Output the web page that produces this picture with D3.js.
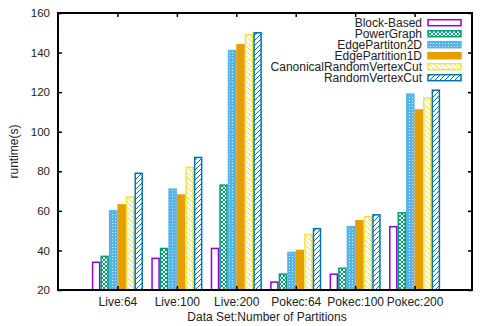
<!DOCTYPE html>
<html>
<head>
<meta charset="utf-8">
<script src="https://cdn.jsdelivr.net/npm/d3@7"></script>
<style>
  body { margin: 0; background: #fff; }
  text { font-family: "Liberation Sans", Arial, sans-serif; }
</style>
</head>
<body>
<div id="chart"></div>
<script>
const width = 480, height = 326;

// data
const categories = ["Live:64", "Live:100", "Live:200", "Pokec:64", "Pokec:100", "Pokec:200"];
const seriesNames = ["Block-Based", "PowerGraph", "EdgePartiton2D", "EdgePartition1D", "CanonicalRandomVertexCut", "RandomVertexCut"];
const blockBased = [34, 36, 41, 24, 28, 52];
const powerGraph = [37, 41, 73, 28, 31, 59];
const edge2D = [60, 71, 141, 39, 52, 119];
const edge1D = [63, 68, 144, 40, 55, 111];
const canonicalRVC = [67, 82, 149, 48, 57, 117];
const randomVC = [79, 87, 150, 51, 58, 121];
const yTicks = [20, 40, 60, 80, 100, 120, 140, 160];

const series = [blockBased, powerGraph, edge2D, edge1D, canonicalRVC, randomVC];
const colors = ["#9400d3", "#009e73", "#56b4e9", "#e69f00", "#f0e442", "#0072b2"];
const fills = ["#fff", "url(#pCross)", "url(#pDots)", "#e69f00", "url(#pBack)", "url(#pFwd)"];

const margin = { left: 58, right: 8, top: 13, bottom: 36 };

const svg = d3.select("#chart").append("svg")
  .attr("width", width)
  .attr("height", height);

// fill patterns
const defs = svg.append("defs");
const pCross = defs.append("pattern").attr("id", "pCross")
  .attr("patternUnits", "userSpaceOnUse").attr("width", 4).attr("height", 4);
pCross.append("rect").attr("width", 4).attr("height", 4).attr("fill", "#fff");
pCross.append("path").attr("d", "M0,0L4,4M4,0L0,4").attr("stroke", "#009e73").attr("stroke-width", 1);

const pDots = defs.append("pattern").attr("id", "pDots")
  .attr("patternUnits", "userSpaceOnUse").attr("width", 3).attr("height", 3);
pDots.append("rect").attr("width", 3).attr("height", 3).attr("fill", "#56b4e9");
pDots.append("rect").attr("x", 1).attr("y", 1).attr("width", 1).attr("height", 1).attr("fill", "#d8eefb");

const pBack = defs.append("pattern").attr("id", "pBack")
  .attr("patternUnits", "userSpaceOnUse").attr("width", 5).attr("height", 5);
pBack.append("rect").attr("width", 5).attr("height", 5).attr("fill", "#fff");
pBack.append("path").attr("d", "M-1,-1L6,6M-1,4L1,6M4,-1L6,1").attr("stroke", "#f0e442").attr("stroke-width", 1);

const pFwd = defs.append("pattern").attr("id", "pFwd")
  .attr("patternUnits", "userSpaceOnUse").attr("width", 5).attr("height", 5);
pFwd.append("rect").attr("width", 5).attr("height", 5).attr("fill", "#fff");
pFwd.append("path").attr("d", "M-1,6L6,-1M-1,1L1,-1M4,6L6,4").attr("stroke", "#0072b2").attr("stroke-width", 1);

// scales
const x = d3.scaleLinear().domain([-1, 6]).range([margin.left, 474]);
const y = d3.scaleLinear().domain([20, 160]).range([height - margin.bottom, margin.top]);

const groupW = 0.86;
const barW = groupW / series.length;

// bars
series.forEach((vals, s) => {
  svg.append("g").selectAll("rect")
    .data(vals)
    .join("rect")
    .attr("x", (d, i) => x(i - groupW / 2 + s * barW) + 0.75)
    .attr("y", d => y(d))
    .attr("width", x(barW) - x(0) - 1.5)
    .attr("height", d => y(20) - y(d))
    .attr("fill", fills[s])
    .attr("stroke", colors[s])
    .attr("stroke-width", 1.5);
});

// axes
const x0 = margin.left, x1 = width - margin.right;
const y0 = y(20), y1 = y(160);

const yAxis = svg.append("g").attr("transform", `translate(${x0},0)`)
  .call(d3.axisLeft(y).tickValues(yTicks).tickSize(-4).tickPadding(8));
yAxis.select(".domain").remove();
yAxis.selectAll("text").attr("font-size", 11.5).attr("fill", "#222");
yAxis.selectAll("line").attr("stroke-width", 1.5);

svg.append("g").attr("transform", `translate(${x1},0)`)
  .call(d3.axisRight(y).tickValues(yTicks).tickSize(-4).tickFormat(""))
  .call(g => g.select(".domain").remove())
  .call(g => g.selectAll("line").attr("stroke-width", 1.5));

const xAxis = svg.append("g").attr("transform", `translate(0,${y0})`)
  .call(d3.axisBottom(x).tickValues(d3.range(categories.length))
    .tickFormat(i => categories[i]).tickSize(-4).tickPadding(7));
xAxis.select(".domain").remove();
xAxis.selectAll("text").attr("font-size", 12).attr("fill", "#222");
xAxis.selectAll("line").attr("stroke-width", 1.5);

svg.append("g").attr("transform", `translate(0,${y1})`)
  .call(d3.axisTop(x).tickValues(d3.range(categories.length)).tickSize(-4).tickFormat(""))
  .call(g => g.select(".domain").remove())
  .call(g => g.selectAll("line").attr("stroke-width", 1.5));

svg.append("rect")
  .attr("x", x0).attr("y", y1)
  .attr("width", x1 - x0).attr("height", y0 - y1)
  .attr("fill", "none").attr("stroke", "#000").attr("stroke-width", 2);

// axis titles
svg.append("text")
  .attr("transform", `translate(18,${(y0 + y1) / 2}) rotate(-90)`)
  .attr("text-anchor", "middle")
  .attr("font-size", 12).attr("fill", "#222")
  .text("runtime(s)");

svg.append("text")
  .attr("x", 267).attr("y", 321)
  .attr("text-anchor", "middle")
  .attr("font-size", 12).attr("fill", "#222")
  .text("Data Set:Number of Partitions");

// legend
const legend = svg.append("g");
seriesNames.forEach((name, s) => {
  const ly = 22.7 + s * 11;
  legend.append("text")
    .attr("x", 422).attr("y", ly).attr("dy", "0.35em")
    .attr("text-anchor", "end")
    .attr("font-size", 12).attr("fill", "#222")
    .text(name);
  legend.append("rect")
    .attr("x", 428).attr("y", ly - 3)
    .attr("width", 33).attr("height", 6)
    .attr("fill", fills[s])
    .attr("stroke", colors[s]).attr("stroke-width", 1.5);
});
</script>
</body>
</html>
